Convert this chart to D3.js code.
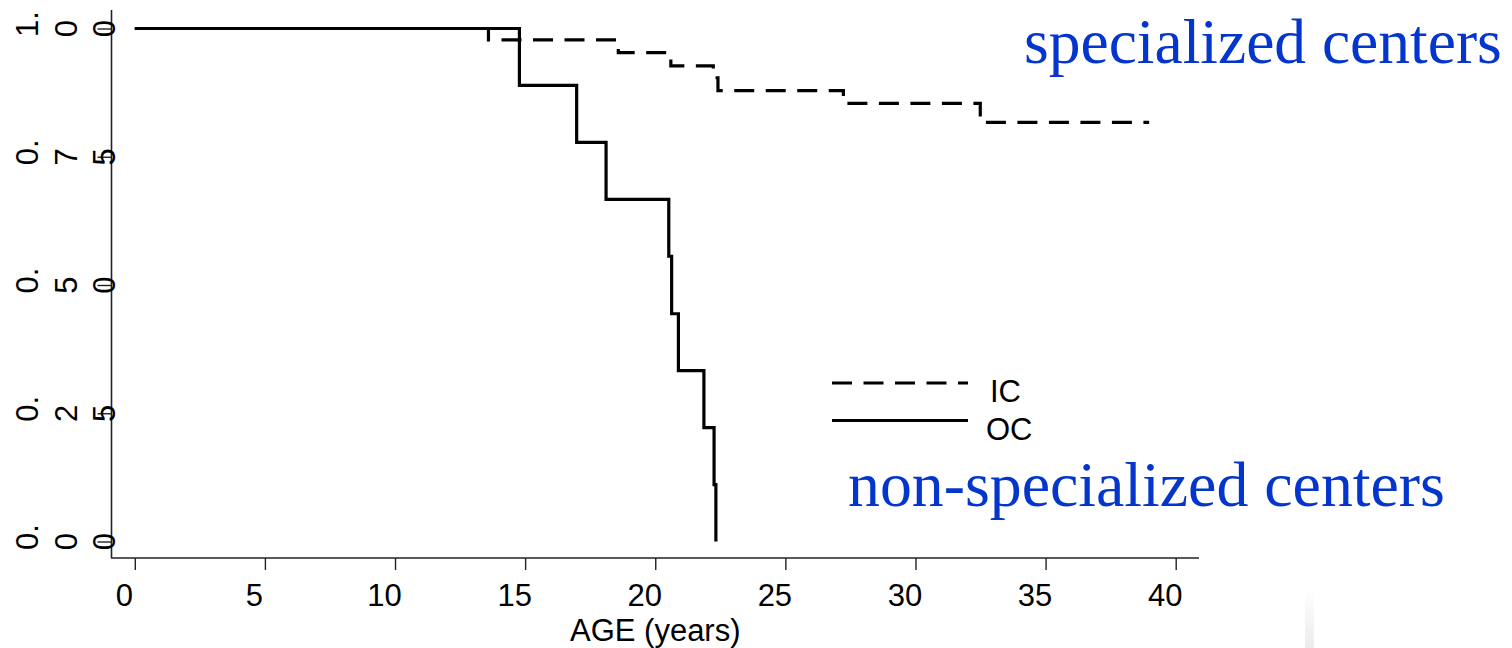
<!DOCTYPE html>
<html>
<head>
<meta charset="utf-8">
<script src="https://cdn.jsdelivr.net/npm/d3@7"></script>
<style>
  html, body { margin: 0; padding: 0; background: #fff; }
  svg { display: block; }
</style>
</head>
<body>
<div id="output"></div>
<script>
// Kaplan-Meier steps
const icTimes = [0, 13.59, 18.58, 20.6, 22.23, 22.41, 27.23, 32.49];
const icSurv  = [1, 0.978, 0.953, 0.927, 0.904, 0.879, 0.854, 0.817];
const icEnd = 38.98;

const ocTimes = [0, 14.78, 16.98, 18.11, 20.52, 20.63, 20.89, 21.87, 22.26, 22.33];
const ocSurv  = [1, 0.889, 0.778, 0.667, 0.556, 0.444, 0.333, 0.222, 0.111, 0];

const xTicks = [0, 5, 10, 15, 20, 25, 30, 35, 40];
const yTicks = [0, 0.25, 0.5, 0.75, 1];
const yTickLabels = ["0.00", "0.25", "0.50", "0.75", "1.00"];

const legendLabels = ["IC", "OC"];
const noteTop = "specialized centers";
const noteBottom = "non-specialized centers";
const xTitle = "AGE (years)";

const width = 1512, height = 648;
const sans = "'Liberation Sans', Arial, sans-serif";
const serif = "'Liberation Serif', 'Times New Roman', serif";
const blue = "#0435cc";

const svg = d3.select("#output").append("svg")
  .attr("width", width)
  .attr("height", height);

const x = d3.scaleLinear().domain([0, 40]).range([134.8, 1175.7]);
const y = d3.scaleLinear().domain([0, 1]).range([541.5, 28.5]);

// axis lines (they run past the scale range, like the Stata frame)
svg.append("line")
  .attr("x1", 111).attr("x2", 1199).attr("y1", 558).attr("y2", 558)
  .attr("stroke", "#222").attr("stroke-width", 1.6);
svg.append("line")
  .attr("x1", 111.5).attr("x2", 111.5).attr("y1", 10).attr("y2", 558)
  .attr("stroke", "#222").attr("stroke-width", 1.6);

// x axis
const gx = svg.append("g")
  .attr("transform", "translate(0,558)")
  .call(d3.axisBottom(x).tickValues(xTicks).tickSize(12).tickPadding(14).tickSizeOuter(0));
gx.select(".domain").remove();
gx.selectAll(".tick line").attr("stroke", "#222").attr("stroke-width", 1.4);
// labels sit a bit left of their ticks in the scan
gx.selectAll(".tick text")
  .attr("x", -11)
  .attr("fill", "#000")
  .style("font-family", sans)
  .style("font-size", "31px");

svg.append("text")
  .attr("x", x(20))
  .attr("y", 641)
  .attr("text-anchor", "middle")
  .style("font-family", sans)
  .style("font-size", "31px")
  .text(xTitle);

// y axis ticks, labels drawn by hand (rotated glyphs spread sideways)
const gy = svg.append("g")
  .attr("transform", "translate(111.5,0)")
  .call(d3.axisLeft(y).tickValues(yTicks).tickSize(14).tickFormat("").tickSizeOuter(0));
gy.select(".domain").remove();
gy.selectAll(".tick line").attr("stroke", "#222").attr("stroke-width", 1.4);

const yLab = svg.append("g")
  .style("font-family", sans)
  .style("font-size", "31px");

yTicks.forEach((v, i) => {
  const s = yTickLabels[i];
  const ty = y(v);
  const parts = [s.slice(0, 2), s[2], s[3]];
  const bx = [38, 77, 115];
  parts.forEach((p, j) => {
    yLab.append("text")
      .attr("transform", `translate(${bx[j]},${j === 0 ? ty + 8.6 : ty}) rotate(-90)`)
      .attr("text-anchor", j === 0 ? "start" : "middle")
      .text(p);
  });
});

// curves
const line = d3.line()
  .x(d => x(d[0]))
  .y(d => y(d[1]))
  .curve(d3.curveStepAfter);

const icPts = icTimes.map((t, i) => [t, icSurv[i]]);
icPts.push([icEnd, icSurv[icSurv.length - 1]]);
const ocPts = ocTimes.map((t, i) => [t, ocSurv[i]]);

svg.append("path")
  .datum(icPts)
  .attr("d", line)
  .attr("fill", "none")
  .attr("stroke", "#000")
  .attr("stroke-width", 3.2)
  .attr("stroke-dasharray", "20,11.5");

svg.append("path")
  .datum(ocPts)
  .attr("d", line)
  .attr("fill", "none")
  .attr("stroke", "#000")
  .attr("stroke-width", 3.2);

// legend
const leg = svg.append("g");
[383, 420.5].forEach((ly, i) => {
  leg.append("line")
    .attr("x1", 832).attr("x2", 968)
    .attr("y1", ly).attr("y2", ly)
    .attr("stroke", "#000")
    .attr("stroke-width", 3.2)
    .attr("stroke-dasharray", i === 0 ? "20,11.5" : null);
  leg.append("text")
    .attr("x", i === 0 ? 990 : 986)
    .attr("y", ly + 19)
    .style("font-family", sans)
    .style("font-size", "31px")
    .text(legendLabels[i]);
});

// blue annotations
svg.append("text")
  .attr("x", 1024).attr("y", 63)
  .attr("fill", blue)
  .style("font-family", serif)
  .style("font-size", "63.5px")
  .text(noteTop);
svg.append("text")
  .attr("x", 848).attr("y", 506)
  .attr("fill", blue)
  .style("font-family", serif)
  .style("font-size", "63.8px")
  .text(noteBottom);

// faint grey strip at the bottom right of the scan
const grad = svg.append("defs").append("linearGradient")
  .attr("id", "fade").attr("x1", 0).attr("x2", 0).attr("y1", 0).attr("y2", 1);
grad.append("stop").attr("offset", "0%").attr("stop-color", "#fff");
grad.append("stop").attr("offset", "100%").attr("stop-color", "#ececec");
svg.append("rect")
  .attr("x", 1305).attr("y", 588).attr("width", 9).attr("height", 60)
  .attr("fill", "url(#fade)");
</script>
</body>
</html>
